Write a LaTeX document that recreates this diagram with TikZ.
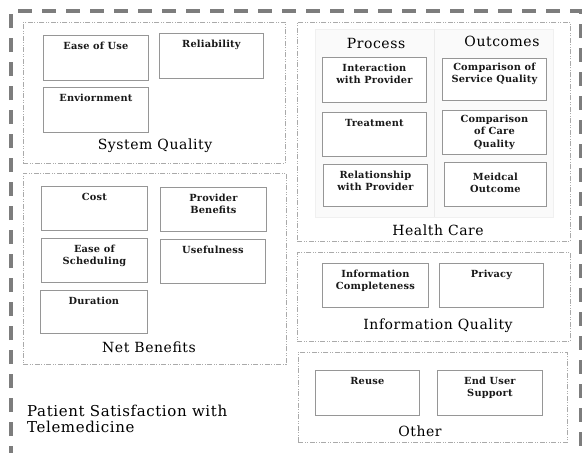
\documentclass[tikz,border=0pt]{standalone}
\usepackage{fontspec}
\setmainfont{DejaVu Serif}
\newfontfamily\boxfont[LetterSpace=2]{DejaVu Serif}
\newfontfamily\grpfont[LetterSpace=4]{DejaVu Serif}
\usetikzlibrary{positioning}
\definecolor{frame}{RGB}{125,125,125}
\definecolor{grpc}{RGB}{170,170,170}
\definecolor{boxc}{RGB}{150,150,150}
\tikzset{
  inbox/.style={draw=boxc, fill=white, line width=0.8pt, anchor=north west, inner sep=0pt},
  grp/.style={draw=grpc, line width=0.6pt, dash pattern=on 5pt off 1.5pt on 1pt off 1.5pt on 1pt off 1.5pt, anchor=north west, inner sep=0pt},
  btxt/.style={font=\boxfont\bfseries\fontsize{9.8}{12.2}\selectfont, align=center, anchor=north, inner sep=0pt, text=black!90},
  gtxt/.style={font=\grpfont\fontsize{14}{16}\selectfont, anchor=center, inner sep=0pt},
  outer/.style={draw=frame, line width=4.5pt, dash pattern=on 14pt off 10pt}
}
\newcommand{\iboxs}[7]{% name, x1, y1, x2, y2, text, text offset
  \node[inbox, minimum width=#4pt-#2pt, minimum height=#5pt-#3pt] (#1) at (#2,#3) {};
  \node[btxt] (#1t) at ([yshift=-#7pt]#1.north) {#6};}
\newcommand{\ibox}[6]{\iboxs{#1}{#2}{#3}{#4}{#5}{#6}{7}}
\newcommand{\gbox}[5]{% name, x1, y1, x2, y2
  \node[grp, minimum width=#4pt-#2pt, minimum height=#5pt-#3pt] (#1) at (#2,#3) {};}
\begin{document}
\begin{tikzpicture}[x=1pt,y=-1pt]
\useasboundingbox (0,0) rectangle (582,453);
% outer frame
\coordinate (fbl) at (11,460);
\coordinate (ftl) at (11,11);
\coordinate (ftr) at (581,11);
\coordinate (fbr) at (581,460);
\draw[outer] (fbl) -- (ftl) -- (ftr) -- (fbr);
% System Quality
\gbox{sq}{23}{22}{285}{163}
\ibox{eou}{43}{35}{148}{80}{Ease of Use}
\ibox{rel}{159}{33}{263}{78}{Reliability}
\ibox{env}{43}{87}{148}{132}{Enviornment}
\node[gtxt] (sqt) at (155,146) {System Quality};
% Net Benefits
\gbox{nb}{23}{173}{286}{364}
\ibox{cost}{41}{186}{147}{230}{Cost}
\ibox{prov}{160}{187}{266}{231}{Provider\\Benefits}
\ibox{eos}{41}{238}{147}{282}{Ease of\\Scheduling}
\ibox{use}{160}{239}{265}{283}{Usefulness}
\ibox{dur}{40}{290}{147}{333}{Duration}
\node[gtxt] (nbt) at (149,347) {Net Benefits};
% Health Care
\gbox{hc}{297}{22}{570}{241}
\node[draw=black!6, fill=black!2, line width=0.6pt, anchor=north west, inner sep=0pt, minimum width=238pt, minimum height=188pt] (panel) at (315,29) {};
\coordinate (dvt) at (434,29);
\coordinate (dvb) at (434,217);
\draw[black!8, line width=0.6pt] (dvt) -- (dvb);
\node[gtxt] (proc) at (376,43) {Process};
\node[gtxt] (outc) at (502,41) {Outcomes};
\ibox{inter}{322}{57}{426}{102}{Interaction\\with Provider}
\ibox{treat}{322}{112}{426}{156}{Treatment}
\ibox{relp}{323}{164}{427}{206}{Relationship\\with Provider}
\iboxs{csq}{442}{58}{546}{100}{Comparison of\\Service Quality}{5}
\iboxs{ccq}{442}{110}{546}{154}{Comparison\\of Care\\Quality}{5}
\iboxs{med}{444}{162}{546}{206}{Meidcal\\Outcome}{11}
\node[gtxt] (hct) at (438,230) {Health Care};
% Information Quality
\gbox{iq}{297}{252}{570}{341}
\ibox{ic}{322}{263}{428}{307}{Information\\Completeness}
\ibox{priv}{439}{263}{543}{307}{Privacy}
\node[gtxt] (iqt) at (438,326) {Information Quality};
% Other
\gbox{oth}{298}{352}{567}{442}
\ibox{reuse}{315}{370}{419}{415}{Reuse}
\ibox{eus}{437}{370}{542}{415}{End User\\Support}
\node[gtxt] (otht) at (420,431) {Other};
% title
\node[font=\grpfont\fontsize{15}{16}\selectfont, align=left, anchor=west, inner sep=0pt] (title) at (27,419) {Patient Satisfaction with\\Telemedicine};
\end{tikzpicture}
\end{document}
